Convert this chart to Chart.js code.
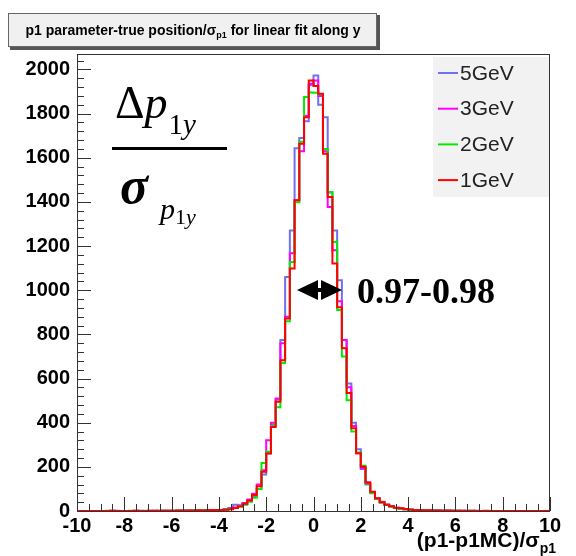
<!DOCTYPE html>
<html>
<head>
<meta charset="utf-8">
<script src="https://cdn.jsdelivr.net/npm/chart.js@4.4.1/dist/chart.umd.min.js"></script>
<style>
    body { margin: 0; background: #ffffff; }
    #caja { width: 576px; height: 556px; }
</style>
</head>
<body>
<div id="caja"><canvas id="graficaPull" width="576" height="556"></canvas></div>
<script>
// histogram bins: 100 bins of 0.2 from -10 to 10
var binLow = -10;
var binWidth = 0.2;

var labels = ['5GeV', '3GeV', '2GeV', '1GeV'];
var colors = ['rgb(112, 112, 240)', 'rgb(255, 0, 255)', 'rgb(0, 235, 0)', 'rgb(255, 0, 0)'];

var gev5 = [
    0, 0, 0, 0, 0, 0, 0, 0, 1, 0,
    0, 0, 0, 1, 0, 1, 0, 1, 1, 1,
    0, 1, 1, 2, 1, 2, 3, 2, 3, 4,
    5, 8, 14, 28, 26, 30, 46, 65, 100, 165,
    262, 392, 505, 774, 1060, 1271, 1643, 1690, 1765, 1930,
    1973, 1840, 1784, 1443, 1271, 1045, 774, 578, 400, 280,
    190, 120, 80, 55, 38, 27, 20, 14, 11, 8,
    6, 5, 4, 3, 2, 2, 2, 1, 1, 1,
    1, 0, 1, 0, 0, 0, 0, 0, 0, 0,
    0, 0, 0, 0, 0, 0, 0, 0, 0, 0
];
var gev3 = [
    0, 0, 0, 0, 0, 0, 0, 1, 0, 0,
    0, 0, 1, 0, 0, 0, 1, 0, 1, 1,
    1, 1, 2, 1, 2, 2, 3, 3, 4, 4,
    5, 7, 10, 16, 24, 36, 52, 78, 120, 185,
    320, 400, 510, 760, 880, 1167, 1407, 1630, 1790, 1935,
    1950, 1880, 1630, 1377, 1181, 950, 775, 560, 385, 262,
    195, 130, 86, 57, 42, 30, 21, 15, 11, 8,
    6, 5, 4, 3, 2, 2, 1, 1, 1, 1,
    0, 1, 0, 0, 1, 0, 0, 0, 0, 0,
    0, 0, 0, 0, 0, 0, 0, 0, 0, 0
];
var gev2 = [
    0, 0, 0, 0, 0, 0, 1, 0, 0, 0,
    0, 1, 0, 0, 1, 0, 0, 1, 1, 0,
    1, 2, 1, 1, 2, 3, 2, 3, 4, 5,
    5, 7, 9, 14, 20, 30, 42, 60, 100, 217,
    268, 385, 470, 670, 860, 1128, 1398, 1672, 1875, 1896,
    1895, 1888, 1640, 1445, 1219, 910, 700, 502, 360, 265,
    205, 125, 82, 56, 38, 27, 20, 14, 10, 8,
    6, 5, 4, 3, 2, 2, 1, 1, 1, 1,
    1, 0, 0, 1, 0, 0, 0, 0, 0, 0,
    0, 0, 0, 0, 0, 0, 0, 0, 0, 0
];
var gev1 = [
    0, 0, 0, 0, 0, 0, 0, 1, 0, 0,
    0, 0, 1, 0, 0, 1, 1, 0, 1, 1,
    1, 2, 1, 2, 2, 3, 2, 3, 4, 5,
    5, 6, 8, 14, 20, 33, 48, 72, 112, 178,
    261, 381, 495, 683, 872, 1098, 1407, 1664, 1784, 1950,
    1925, 1890, 1618, 1422, 1121, 923, 737, 534, 375, 262,
    200, 128, 87, 58, 40, 28, 22, 15, 12, 9,
    7, 5, 4, 3, 3, 2, 2, 1, 2, 1,
    1, 1, 0, 1, 0, 0, 1, 0, 0, 0,
    0, 0, 0, 0, 0, 0, 0, 0, 0, 0
];

var xTicks = [-10, -8, -6, -4, -2, 0, 2, 4, 6, 8, 10];
var yTicks = [0, 200, 400, 600, 800, 1000, 1200, 1400, 1600, 1800, 2000];

function histoPoints(values) {
    var pts = [];
    for (var i = 0; i < values.length; i++) {
        pts.push({x: binLow + i * binWidth, y: values[i]});
    }
    pts.push({x: binLow + values.length * binWidth, y: values[values.length - 1]});
    return pts;
}

// frame, ROOT style ticks, title box, legend and the annotations
var decoraciones = {
    id: 'decoraciones',
    afterDraw: function(chart) {
        var ctx = chart.ctx;
        var a = chart.chartArea;
        var sx = chart.scales.x;
        var sy = chart.scales.y;
        ctx.save();

        ctx.strokeStyle = '#333';
        ctx.lineWidth = 1;
        ctx.strokeRect(a.left + 0.5, a.top + 0.5, a.right - a.left - 1, a.bottom - a.top);

        ctx.beginPath();
        for (var v = -10; v <= 10.001; v += 0.5) {
            var px = Math.round(sx.getPixelForValue(v)) + 0.5;
            var len = (Math.abs(v % 2) < 0.001) ? 14 : 7;
            ctx.moveTo(px, a.bottom);
            ctx.lineTo(px, a.bottom - len);
        }
        for (var w = 0; w <= 2060; w += 40) {
            var py = Math.round(sy.getPixelForValue(w)) + 0.5;
            var len2 = (w % 200 === 0) ? 14 : 7;
            ctx.moveTo(a.left, py);
            ctx.lineTo(a.left + len2, py);
        }
        ctx.stroke();

        // title box
        ctx.fillStyle = '#555';
        ctx.fillRect(10, 15, 370, 35);
        ctx.fillStyle = '#f0f0f0';
        ctx.fillRect(8, 13, 369, 34);
        ctx.strokeStyle = '#666';
        ctx.strokeRect(8.5, 13.5, 368, 33);
        ctx.fillStyle = '#000';
        ctx.textBaseline = 'alphabetic';
        var t1 = 'p1 parameter-true position/\u03c3';
        var t2 = 'p1';
        var t3 = ' for linear fit along y';
        ctx.font = 'bold 14px "Liberation Sans"';
        var w1 = ctx.measureText(t1).width;
        var w3 = ctx.measureText(t3).width;
        ctx.font = 'bold 9px "Liberation Sans"';
        var w2 = ctx.measureText(t2).width;
        var tx = 193 - (w1 + w2 + w3) / 2;
        ctx.font = 'bold 14px "Liberation Sans"';
        ctx.fillText(t1, tx, 35);
        ctx.font = 'bold 9px "Liberation Sans"';
        ctx.fillText(t2, tx + w1, 38);
        ctx.font = 'bold 14px "Liberation Sans"';
        ctx.fillText(t3, tx + w1 + w2, 35);

        // legend
        ctx.fillStyle = '#f2f2f2';
        ctx.fillRect(433, 57, 116, 140);
        ctx.font = '21px "Liberation Sans"';
        ctx.textBaseline = 'middle';
        chart.data.datasets.forEach(function(ds, i) {
            var ly = 73 + i * 35.7;
            ctx.strokeStyle = ds.borderColor;
            ctx.lineWidth = 2;
            ctx.beginPath();
            ctx.moveTo(438, ly);
            ctx.lineTo(458, ly);
            ctx.stroke();
            ctx.fillStyle = '#222';
            ctx.fillText(ds.label, 460, ly + 1);
        });

        // big fraction
        ctx.fillStyle = '#000';
        ctx.textBaseline = 'alphabetic';
        ctx.font = '46px "Liberation Serif"';
        ctx.fillText('\u0394', 115, 118);
        var fx = 115 + ctx.measureText('\u0394').width;
        ctx.font = 'italic 46px "Liberation Serif"';
        ctx.fillText('p', fx, 118);
        fx += ctx.measureText('p').width + 1;
        ctx.font = '29px "Liberation Serif"';
        ctx.fillText('1', fx, 134);
        fx += ctx.measureText('1').width;
        ctx.font = 'italic 29px "Liberation Serif"';
        ctx.fillText('y', fx, 134);
        ctx.fillRect(112, 147, 115, 3);
        ctx.font = 'italic bold 52px "Liberation Serif"';
        ctx.fillText('\u03c3', 120, 203);
        ctx.font = 'italic 30px "Liberation Serif"';
        ctx.fillText('p', 160, 219);
        var gx = 160 + ctx.measureText('p').width;
        ctx.font = '22px "Liberation Serif"';
        ctx.fillText('1', gx, 224);
        gx += ctx.measureText('1').width;
        ctx.font = 'italic 22px "Liberation Serif"';
        ctx.fillText('y', gx, 224);

        // width arrow
        ctx.beginPath();
        ctx.moveTo(297, 290);
        ctx.lineTo(318, 280);
        ctx.lineTo(318, 300);
        ctx.closePath();
        ctx.moveTo(342, 290);
        ctx.lineTo(321, 280);
        ctx.lineTo(321, 300);
        ctx.closePath();
        ctx.fill();
        ctx.fillRect(316, 288, 7, 4);
        ctx.font = 'bold 36px "Liberation Serif"';
        ctx.fillText('0.97-0.98', 357, 303);

        // x axis title
        ctx.font = 'bold 21px "Liberation Sans"';
        var m1 = '(p1-p1MC)/\u03c3';
        var mw1 = ctx.measureText(m1).width;
        ctx.font = 'bold 14px "Liberation Sans"';
        var mw2 = ctx.measureText('p1').width;
        var mx = 556 - mw1 - mw2;
        ctx.font = 'bold 21px "Liberation Sans"';
        ctx.fillText(m1, mx, 547);
        ctx.font = 'bold 14px "Liberation Sans"';
        ctx.fillText('p1', mx + mw1, 553);

        ctx.restore();
    }
};

document.addEventListener("DOMContentLoaded", function() {
    var ctx = document.getElementById("graficaPull").getContext("2d");
    var series = [gev5, gev3, gev2, gev1];
    var grafica = new Chart(ctx, {
        type: "line",
        data: {
            datasets: series.map(function(vals, i) {
                return {
                    label: labels[i],
                    data: histoPoints(vals),
                    borderColor: colors[i],
                    backgroundColor: colors[i],
                    borderWidth: 2,
                    pointRadius: 0,
                    fill: false,
                    stepped: true,
                    order: 4 - i
                };
            })
        },
        options: {
            responsive: false,
            animation: false,
            layout: {
                autoPadding: false,
                padding: {top: 54, right: 26, left: 0, bottom: 0}
            },
            plugins: {
                legend: { display: false },
                tooltip: { enabled: false }
            },
            scales: {
                x: {
                    type: 'linear',
                    min: -10,
                    max: 10,
                    grid: { display: false, drawTicks: false },
                    border: { display: false },
                    afterBuildTicks: function(s) {
                        s.ticks = xTicks.map(function(v) { return {value: v}; });
                    },
                    afterFit: function(s) { s.height = 45; },
                    ticks: {
                        autoSkip: false,
                        maxRotation: 0,
                        padding: 3,
                        color: '#000',
                        font: { family: 'Liberation Sans', size: 20, weight: 'bold' },
                        callback: function(v) { return String(v); }
                    }
                },
                y: {
                    min: 0,
                    max: 2070,
                    grid: { display: false, drawTicks: false },
                    border: { display: false },
                    afterBuildTicks: function(s) {
                        s.ticks = yTicks.map(function(v) { return {value: v}; });
                    },
                    afterFit: function(s) { s.width = 77; },
                    ticks: {
                        padding: 7,
                        color: '#000',
                        font: { family: 'Liberation Sans', size: 20, weight: 'bold' },
                        callback: function(v) { return String(v); }
                    }
                }
            }
        },
        plugins: [decoraciones]
    });
});
</script>
</body>
</html>
